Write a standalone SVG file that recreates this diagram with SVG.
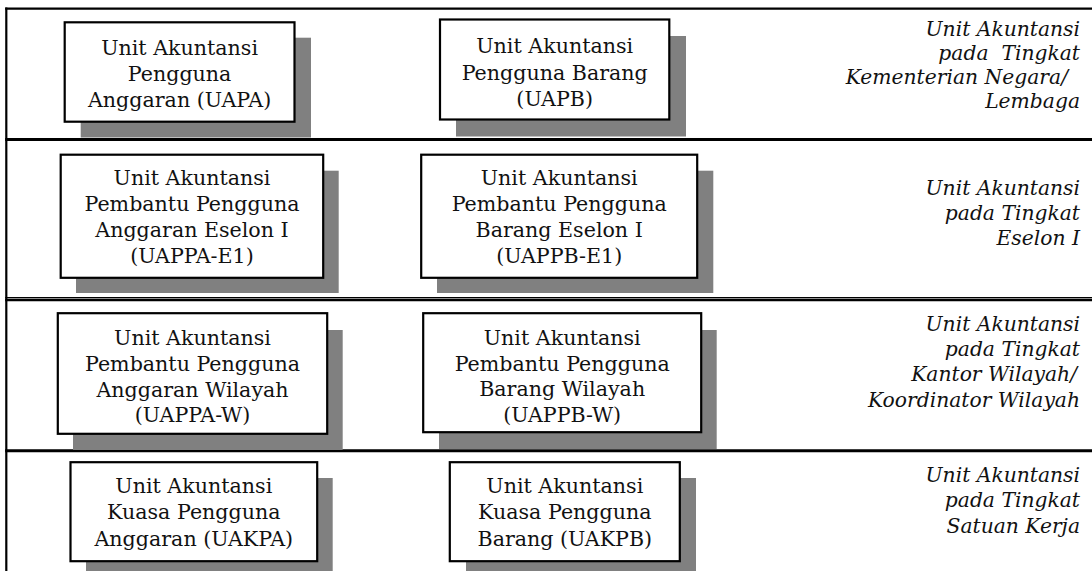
<svg xmlns="http://www.w3.org/2000/svg" width="1092" height="571" viewBox="0 0 1092 571">
  <style>
    .shadow { fill: #808080; stroke: none; }
    .box { fill: #ffffff; stroke: #000000; stroke-width: 2.2; }
    .rule { stroke: #000000; fill: none; }
    .label { font-family: "DejaVu Serif", "Liberation Serif", serif; font-size: 20.6px; fill: #111111; text-anchor: middle; }
    .level { font-family: "DejaVu Serif", "Liberation Serif", serif; font-style: italic; font-size: 20.3px; fill: #111111; text-anchor: end; }
  </style>
  <rect x="0" y="0" width="1092" height="571" fill="#ffffff"/>

  <!-- frame and row separators -->
  <g id="frame">
    <line class="rule" x1="6.3" y1="7.5" x2="6.3" y2="571" stroke-width="2.2"/>
    <line class="rule" x1="5.2" y1="8.7" x2="1092" y2="8.7" stroke-width="2.3"/>
    <line class="rule" x1="5.2" y1="139.5" x2="1092" y2="139.5" stroke-width="3.2"/>
    <line class="rule" x1="5.2" y1="297.7" x2="1092" y2="297.7" stroke-width="1.2"/>
    <line class="rule" x1="5.2" y1="300" x2="1092" y2="300" stroke-width="2.4"/>
    <line class="rule" x1="5.2" y1="450.8" x2="1092" y2="450.8" stroke-width="3"/>
  </g>

  <!-- level 1: ministry / agency -->
  <g id="uapa">
    <rect class="shadow" x="80.7" y="37.7" width="230.3" height="99.8"/>
    <rect class="box" x="64.7" y="22.3" width="229.8" height="99.4"/>
    <text class="label"><tspan x="179.6" y="54.5">Unit Akuntansi</tspan><tspan x="179.6" y="80.5">Pengguna</tspan><tspan x="179.6" y="106.5">Anggaran (UAPA)</tspan></text>
  </g>
  <g id="uapb">
    <rect class="shadow" x="456" y="36" width="230" height="100.5"/>
    <rect class="box" x="440" y="19.5" width="229.3" height="100"/>
    <text class="label"><tspan x="554.7" y="53">Unit Akuntansi</tspan><tspan x="554.7" y="79.5">Pengguna Barang</tspan><tspan x="554.7" y="106">(UAPB)</tspan></text>
  </g>
  <g id="level-kl">
    <text class="level"><tspan x="1080" y="36">Unit Akuntansi</tspan><tspan x="1080" y="60" style="white-space:pre">pada  Tingkat</tspan><tspan x="1068" y="84">Kementerian Negara/</tspan><tspan x="1080" y="107.5">Lembaga</tspan></text>
  </g>

  <!-- level 2: echelon I -->
  <g id="uappa-e1">
    <rect class="shadow" x="76" y="170.7" width="262.7" height="122.3"/>
    <rect class="box" x="60.7" y="154.7" width="262.5" height="123.1"/>
    <text class="label"><tspan x="192" y="185">Unit Akuntansi</tspan><tspan x="192" y="211">Pembantu Pengguna</tspan><tspan x="192" y="237">Anggaran Eselon I</tspan><tspan x="192" y="263">(UAPPA-E1)</tspan></text>
  </g>
  <g id="uappb-e1">
    <rect class="shadow" x="437" y="170.7" width="276.3" height="122.3"/>
    <rect class="box" x="421.2" y="154.7" width="276" height="123.1"/>
    <text class="label"><tspan x="559.2" y="185">Unit Akuntansi</tspan><tspan x="559.2" y="211">Pembantu Pengguna</tspan><tspan x="559.2" y="237">Barang Eselon I</tspan><tspan x="559.2" y="263">(UAPPB-E1)</tspan></text>
  </g>
  <g id="level-e1">
    <text class="level"><tspan x="1080" y="195">Unit Akuntansi</tspan><tspan x="1080" y="220">pada Tingkat</tspan><tspan x="1080" y="245">Eselon I</tspan></text>
  </g>

  <!-- level 3: regional office -->
  <g id="uappa-w">
    <rect class="shadow" x="73" y="330" width="269.7" height="120"/>
    <rect class="box" x="57.8" y="313.2" width="269.4" height="120.6"/>
    <text class="label"><tspan x="192.5" y="345">Unit Akuntansi</tspan><tspan x="192.5" y="371">Pembantu Pengguna</tspan><tspan x="192.5" y="397">Anggaran Wilayah</tspan><tspan x="192.5" y="422">(UAPPA-W)</tspan></text>
  </g>
  <g id="uappb-w">
    <rect class="shadow" x="439" y="330" width="277.7" height="119"/>
    <rect class="box" x="423.2" y="313.2" width="278" height="119"/>
    <text class="label"><tspan x="562.2" y="345">Unit Akuntansi</tspan><tspan x="562.2" y="370.5">Pembantu Pengguna</tspan><tspan x="562.2" y="396">Barang Wilayah</tspan><tspan x="562.2" y="422">(UAPPB-W)</tspan></text>
  </g>
  <g id="level-w">
    <text class="level"><tspan x="1080" y="331">Unit Akuntansi</tspan><tspan x="1080" y="356">pada Tingkat</tspan><tspan x="1077" y="381">Kantor Wilayah/</tspan><tspan x="1080" y="406.7">Koordinator Wilayah</tspan></text>
  </g>

  <!-- level 4: work unit -->
  <g id="uakpa">
    <rect class="shadow" x="86" y="478" width="246.7" height="93"/>
    <rect class="box" x="70.5" y="462.2" width="246.7" height="99"/>
    <text class="label"><tspan x="193.8" y="493">Unit Akuntansi</tspan><tspan x="193.8" y="519">Kuasa Pengguna</tspan><tspan x="193.8" y="546">Anggaran (UAKPA)</tspan></text>
  </g>
  <g id="uakpb">
    <rect class="shadow" x="466" y="478" width="230" height="93"/>
    <rect class="box" x="449.8" y="462.2" width="230" height="99"/>
    <text class="label"><tspan x="564.8" y="493">Unit Akuntansi</tspan><tspan x="564.8" y="519">Kuasa Pengguna</tspan><tspan x="564.8" y="546">Barang (UAKPB)</tspan></text>
  </g>
  <g id="level-satker">
    <text class="level"><tspan x="1080" y="482">Unit Akuntansi</tspan><tspan x="1080" y="507">pada Tingkat</tspan><tspan x="1080" y="533">Satuan Kerja</tspan></text>
  </g>
</svg>
